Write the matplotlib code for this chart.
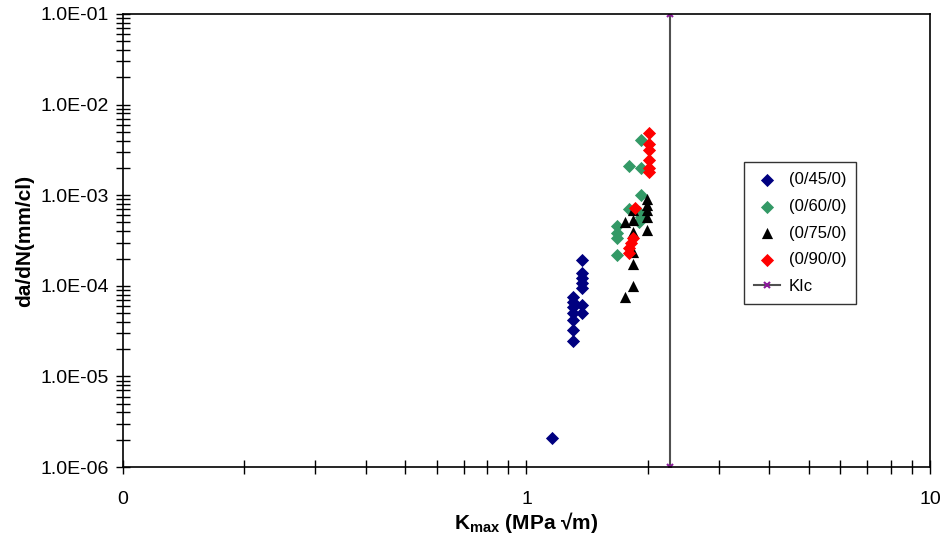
import numpy as np
import matplotlib
matplotlib.use("Agg")
import matplotlib.pyplot as plt
from matplotlib.ticker import FixedLocator, LogLocator, NullFormatter, FixedFormatter

plt.rcParams['font.family'] = ['Liberation Sans', 'DejaVu Sans']
plt.rcParams['mathtext.fontset'] = 'custom'
plt.rcParams['mathtext.rm'] = 'Liberation Sans'
plt.rcParams['mathtext.bf'] = 'Liberation Sans:bold'

# (0/45/0)
k45 = [1.369, 1.369, 1.369, 1.369, 1.369, 1.306, 1.306, 1.306, 1.372, 1.306,
       1.372, 1.306, 1.306, 1.306, 1.158]
v45 = [1.93e-4, 1.37e-4, 1.22e-4, 1.07e-4, 9.46e-5, 7.58e-5, 6.68e-5, 5.88e-5,
       6.14e-5, 4.97e-5, 4.97e-5, 4.19e-5, 3.25e-5, 2.48e-5, 2.1e-6]

# (0/60/0)
k60 = [1.92, 1.795, 1.92, 1.92, 1.795, 1.90, 1.92, 1.90, 1.672, 1.672, 1.672, 1.672]
v60 = [4.07e-3, 2.12e-3, 1.98e-3, 1.0e-3, 6.99e-4, 6.58e-4, 5.79e-4, 5.1e-4,
       4.57e-4, 3.79e-4, 3.34e-4, 2.19e-4]

# (0/75/0)
k75 = [1.985, 1.985, 1.985, 1.985, 1.84, 1.75, 1.84, 1.84, 1.985, 1.84, 1.833,
       1.833, 1.75]
v75 = [9.08e-4, 7.8e-4, 6.87e-4, 5.79e-4, 6.87e-4, 5.1e-4, 5.32e-4, 3.96e-4,
       4.13e-4, 2.38e-4, 1.74e-4, 9.95e-5, 7.58e-5]

# (0/90/0)
k90 = [2.008, 2.008, 2.008, 2.008, 2.008, 2.008, 1.854, 1.84, 1.811, 1.795, 1.795]
v90 = [4.82e-3, 3.67e-3, 3.15e-3, 2.45e-3, 1.98e-3, 1.82e-3, 7.28e-4, 3.34e-4,
       2.94e-4, 2.6e-4, 2.32e-4]

# KIc
kic_x = [2.27, 2.27]
kic_y = [1e-6, 1e-1]

fig = plt.figure(figsize=(9.43, 5.44), dpi=100)
ax = fig.add_axes([0.1304, 0.1415, 0.8558, 0.8328])

ax.plot(kic_x, kic_y, color='#505050', lw=1.5, marker='x', ms=4, mew=1.5,
        mec='#8B1A9B', label='KIc', zorder=1)
ax.scatter(k45, v45, marker='D', s=45, color='#000080', label='(0/45/0)', zorder=3, lw=0)
ax.scatter(k60, v60, marker='D', s=45, color='#339966', label='(0/60/0)', zorder=3, lw=0)
ax.scatter(k75, v75, marker='^', s=65, color='black', label='(0/75/0)', zorder=3, lw=0)
ax.scatter(k90, v90, marker='D', s=45, color='#FF0000', label='(0/90/0)', zorder=4, lw=0)

ax.set_xscale('log')
ax.set_yscale('log')
ax.set_xlim(0.1, 10)
ax.set_ylim(1e-6, 1e-1)

ax.xaxis.set_major_locator(FixedLocator([0.1, 1, 10]))
ax.xaxis.set_major_formatter(FixedFormatter(['0', '1', '10']))
ax.xaxis.set_minor_locator(LogLocator(base=10, subs=np.arange(2, 10)))
ax.xaxis.set_minor_formatter(NullFormatter())

yt = [1e-6, 1e-5, 1e-4, 1e-3, 1e-2, 1e-1]
ax.yaxis.set_major_locator(FixedLocator(yt))
ax.yaxis.set_major_formatter(FixedFormatter(['%.1E' % v for v in yt]))
ax.yaxis.set_minor_locator(LogLocator(base=10, subs=np.arange(2, 10)))
ax.yaxis.set_minor_formatter(NullFormatter())

ax.tick_params(which='both', direction='inout', labelsize=14, width=1)
ax.tick_params(which='major', length=10)
ax.tick_params(which='minor', length=10)
ax.tick_params(axis='y', which='major', pad=5)
ax.tick_params(axis='x', which='major', pad=12)
for s in ax.spines.values():
    s.set_linewidth(1.2)

ax.set_ylabel('da/dN(mm/cl)', fontsize=15, fontweight='bold', labelpad=5)
ax.set_xlabel(r'$\mathbf{K_{max}}$' + ' (MPa √m)', fontsize=15, fontweight='bold', labelpad=2)

h, l = ax.get_legend_handles_labels()
order = [1, 2, 3, 4, 0]
leg = ax.legend([h[i] for i in order], [l[i] for i in order], loc='upper left',
                bbox_to_anchor=(0.759, 0.691), fontsize=12, frameon=True, fancybox=False,
                edgecolor='black', handlelength=1.6, handletextpad=0.5,
                labelspacing=0.7, borderpad=0.6, scatterpoints=1)
leg.get_frame().set_linewidth(1)

fig.savefig('out.png', dpi=100)
